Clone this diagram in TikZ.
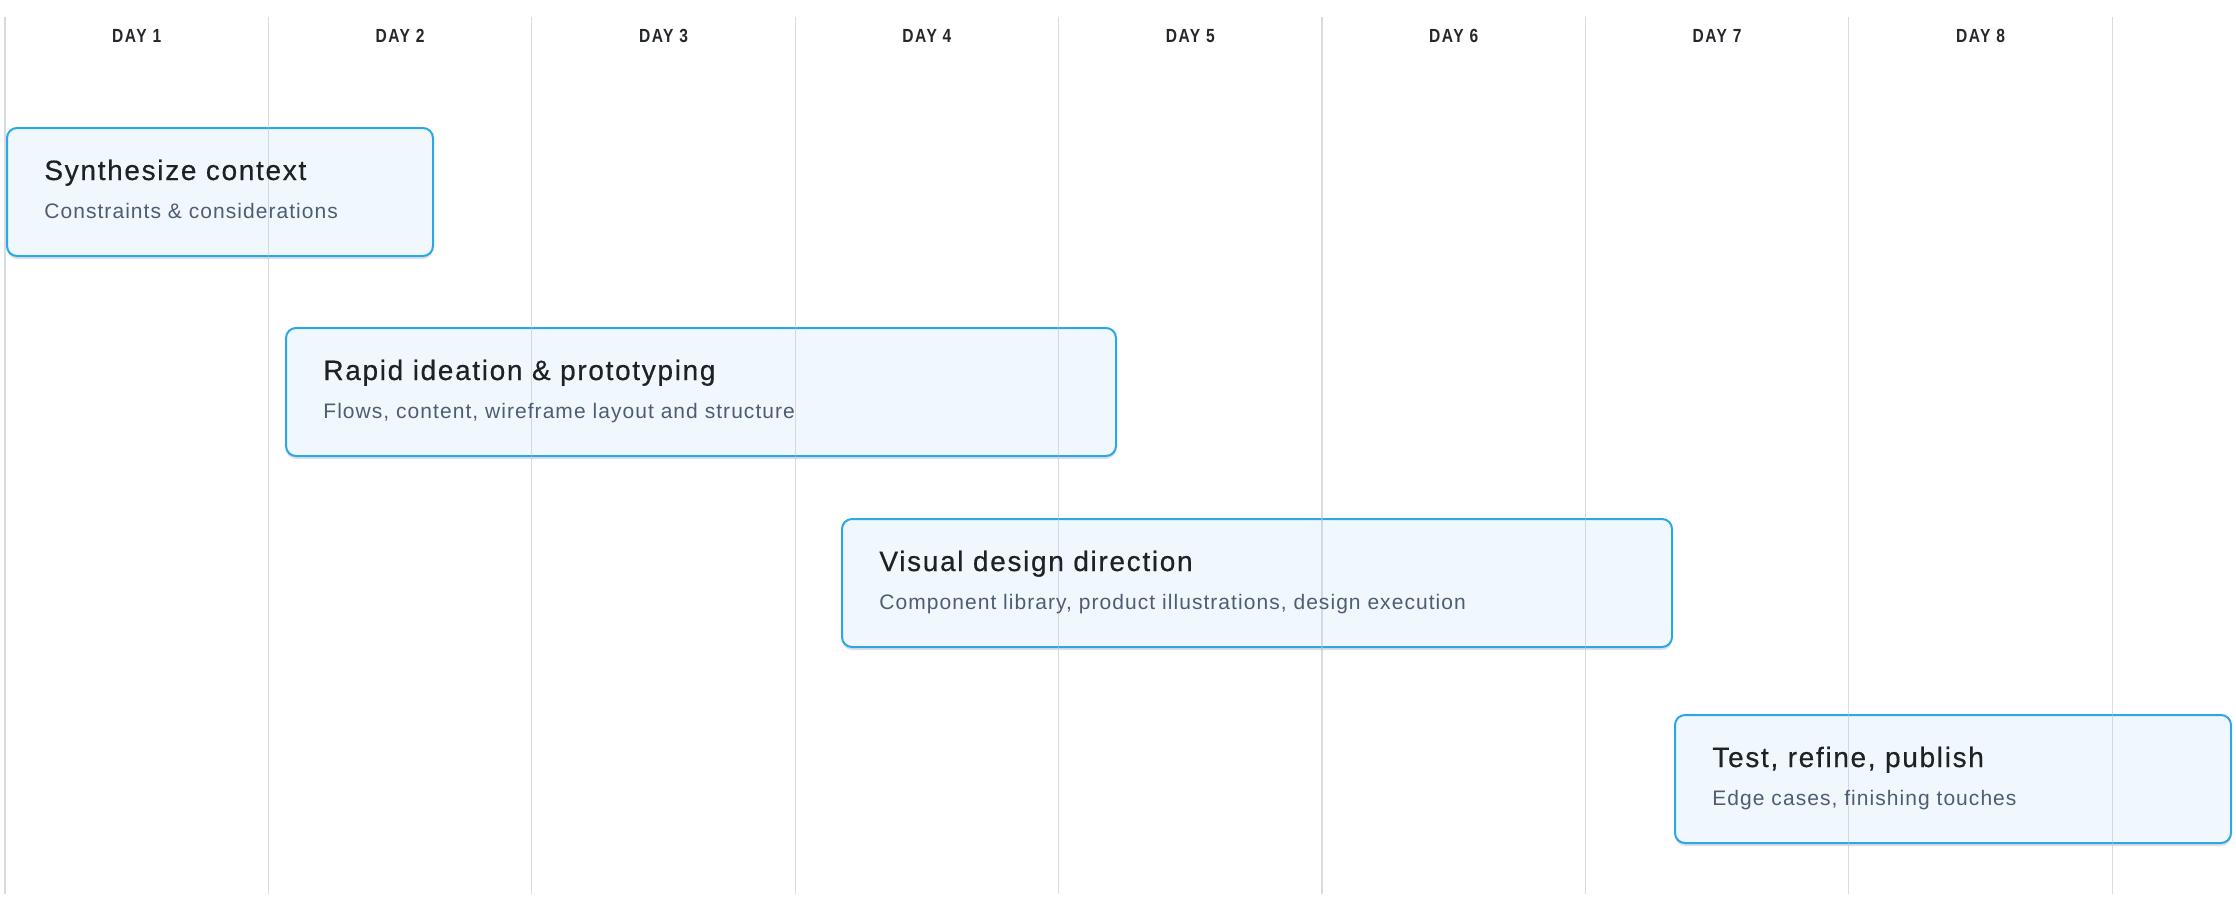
\documentclass[tikz,border=0pt]{standalone}
\usepackage{fontspec}
\setmainfont{Liberation Sans}
\newfontfamily\dayfont[FakeStretch=0.82,LetterSpace=8]{Liberation Sans}
\newfontfamily\titlefont[LetterSpace=6,FakeBold=0.5]{Liberation Sans}
\newfontfamily\notefont[LetterSpace=5]{Liberation Sans}
\usepackage{xcolor}
\usepackage{tikz}
\usetikzlibrary{positioning,shadows}

\definecolor{gridline}{HTML}{B8C0CA}
\definecolor{taskedge}{HTML}{2AA7E6}
\definecolor{taskfill}{HTML}{F0F8FE}
\definecolor{titleink}{HTML}{1E2227}
\definecolor{noteink}{HTML}{4E5D73}
\definecolor{dayink}{HTML}{24272B}

\begin{document}
\begin{tikzpicture}[
  x=0.5pt, y=-0.5pt,
  day/.style={font=\dayfont\bfseries\fontsize{9.5}{11}\selectfont, text=dayink, inner sep=0pt},
  grid/.style={draw=gridline, draw opacity=0.55, line width=0.55pt},
  task/.style={draw=taskedge, line width=1pt, fill=taskfill, rounded corners=5pt, anchor=north west, minimum height=64pt, inner sep=0pt,
    drop shadow={shadow xshift=0pt, shadow yshift=-1.5pt, opacity=0.12, fill=black}},
  tasktitle/.style={font=\titlefont\fontsize{14}{16}\selectfont, text=titleink, anchor=base west, inner sep=0pt},
  tasknote/.style={font=\notefont\fontsize{10.5}{12}\selectfont, text=noteink, anchor=base west, inner sep=0pt}]
\useasboundingbox (0,0) rectangle (2236,912);
% task bars
\node[task, minimum width=213pt] (synth) at (6,127) {};
\node[task, minimum width=415pt] (ideate) at (285,327) {};
\node[task, minimum width=415pt] (visual) at (841,518) {};
\node[task, minimum width=278pt] (publish) at (1674,714) {};
% day columns
\foreach \k in {0,...,8} {
  \coordinate (top\k) at ({5+263.4*\k},17);
  \coordinate (bot\k) at ({5+263.4*\k},894);
  \draw[grid] (top\k) -- (bot\k);
}
\foreach \d in {1,...,8}
  \node[day] (day\d) at ({5+263.4*(\d-0.5)},36) {DAY \d};
% task texts
\node[tasktitle] (synth-t) at ([shift={(38,53)}]synth.north west) {Synthesize context};
\node[tasknote] (synth-n) at ([shift={(38,91)}]synth.north west) {Constraints \& considerations};
\node[tasktitle] (ideate-t) at ([shift={(38,53)}]ideate.north west) {Rapid ideation \& prototyping};
\node[tasknote] (ideate-n) at ([shift={(38,91)}]ideate.north west) {Flows, content, wireframe layout and structure};
\node[tasktitle] (visual-t) at ([shift={(38,53)}]visual.north west) {Visual design direction};
\node[tasknote] (visual-n) at ([shift={(38,91)}]visual.north west) {Component library, product illustrations, design execution};
\node[tasktitle] (publish-t) at ([shift={(38,53)}]publish.north west) {Test, refine, publish};
\node[tasknote] (publish-n) at ([shift={(38,91)}]publish.north west) {Edge cases, finishing touches};
\end{tikzpicture}
\end{document}
